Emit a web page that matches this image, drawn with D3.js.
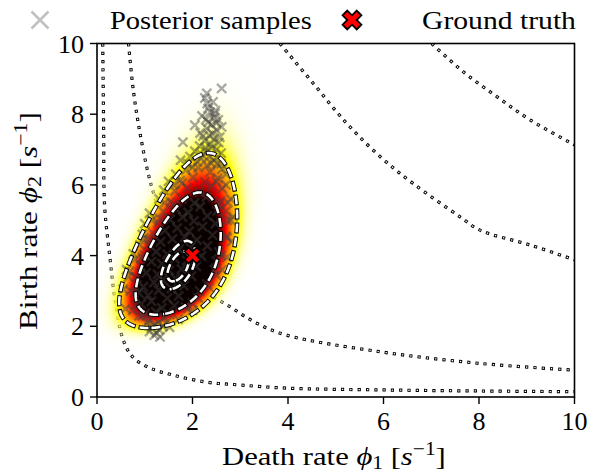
<!DOCTYPE html>
<html><head><meta charset="utf-8">
<script src="https://cdn.jsdelivr.net/npm/d3@7"></script>
<style>body{margin:0;background:#fff}svg{display:block}</style>
</head><body>
<svg id="chart" width="603" height="474"></svg>
<script>
// ---------------- data ----------------
const xTicks = [0, 2, 4, 6, 8, 10];
const yTicks = [0, 2, 4, 6, 8, 10];
const xLabel = "Death rate";
const yLabel = "Birth rate";
const legendLabels = ["Posterior samples", "Ground truth"];
const groundTruth = [2.0, 4.0];

// posterior density shape:
// birth rate ~ log-normal, death rate | birth rate ~ normal around a + b*ln(birth)
const logBirthMean = [1.3625];
const logBirthSd = [0.25];
const deathTrend = [0.40, 1.0];   // intercept, slope on ln(birth)
const deathSd = [0.42];
const contourLevels = [0.041, 0.19, 0.76, 0.9]; // fraction of peak density
const colorMax = [0.24];                       // fraction of peak where colour saturates
const colorGamma = [0.7];

// dotted iso-curves (phi1, phi2)
const isoCurve1 = [[0.12,10],[0.14,7.5],[0.16,5.4],[0.27,3.96],[0.38,2.74],[0.55,1.61],[0.75,1.13],[1.11,0.82],[1.59,0.62],[2.30,0.42],[2.99,0.34],[3.98,0.25],[6.0,0.2],[8.0,0.17],[10,0.15]];
const isoCurve2 = [[0.66,10],[0.76,8.68],[0.90,7.47],[1.07,6.34],[1.21,5.66],[1.5,4.6],[1.85,3.7],[2.23,3.03],[2.79,2.55],[3.34,2.09],[3.97,1.75],[5.93,1.28],[8.02,0.95],[10,0.76]];
const isoCurve3 = [[3.83,10],[4.53,8.87],[5.23,7.74],[5.93,6.80],[6.62,6.04],[7.6,5.1],[8.02,4.72],[9.07,4.30],[10,3.88]];
const isoCurve4 = [[7.01,10],[7.67,9.2],[8.37,8.5],[9.07,7.84],[10,7.13]];
const isoCurves = [isoCurve1, isoCurve2, isoCurve3, isoCurve4];

// posterior samples (phi1, phi2)
const samplesTail = [[2.61,8.73],[2.30,8.59],[2.26,8.46],[2.43,8.35],[2.33,8.17],[2.37,8.06],[2.54,7.84],[2.05,7.69],[1.80,7.21],[2.16,7.47],[2.61,7.64],[2.45,7.9],[2.40,7.7],[2.50,7.55],[2.30,7.6],[2.35,7.4],[2.45,7.3],[2.25,7.25],[2.55,7.2],[2.15,7.1],[2.40,7.05],[2.30,6.95],[2.50,7.0],[2.05,6.95],[2.20,6.85],[2.35,6.8],[2.60,6.9],[1.95,6.8],[2.45,6.7],[2.10,6.65],[2.28,7.85],[2.48,8.1],[2.20,7.95],[2.38,7.15],[2.52,6.6],[2.0,6.5],[2.3,6.55],
 [2.42,7.45],[2.33,7.78],[2.47,8.02],[2.27,7.05],[2.57,7.35],[2.18,6.75],[2.39,6.62],[2.22,7.38],[2.5,7.75],[2.31,8.3]];
const samplesBottom = [[1.25,1.81],[1.14,1.95],[1.32,1.70],[1.20,1.75],[1.05,2.1],[1.30,1.9],[1.38,2.0],[1.10,1.85],[0.95,2.3],[1.45,2.1],[1.22,2.05]];
const samplesEdge = [[0.7,3.0],[0.66,3.4],[0.8,3.9],[0.9,4.3],[1.0,4.9],[1.1,5.2],[1.3,5.6],[1.5,6.1],[1.65,6.3],[1.75,6.7],
 [2.62,5.9],[2.74,5.5],[2.8,5.0],[2.72,4.5],[2.6,4.0],[2.46,3.6],[2.3,3.2],[2.12,2.8],[1.9,2.5],[1.7,2.2],[1.52,1.97],
 [0.8,2.6],[0.88,2.3],[0.62,3.6],[0.95,4.6],[2.7,5.25],[2.5,3.85],[1.4,5.85],[2.0,2.65],
 [0.6,2.5],[0.75,2.45],[1.85,2.55],[2.0,2.45],[0.55,3.05],[0.78,2.95],[2.15,3.0],[2.35,3.1],
 [0.68,3.55],[2.5,3.45],[2.62,3.6],[0.76,4.05],[0.95,3.95],[2.55,4.1],[2.72,3.95],
 [0.98,4.5],[1.1,4.45],[2.7,4.55],[2.82,4.4],[1.15,5.0],[1.32,5.05],[2.72,5.0],[2.85,5.1],
 [1.42,5.5],[1.6,5.45],[2.55,5.45],[2.8,5.6],[1.6,6.0],[1.78,6.05],[2.7,6.0],[2.5,6.1],
 [1.9,6.6],[2.6,6.6],[2.7,6.3]];
const samplesCore = [[1.18,2.02],[1.29,2.11],[1.09,2.18],[1.41,2.24],[1.01,2.37],[1.23,2.41],[1.52,2.33],[1.36,2.52],[0.93,2.63],[1.14,2.71],[1.62,2.58],[1.47,2.79],[0.88,2.94],[1.07,2.88],[1.29,3.02],[1.71,2.86],[1.56,3.07],[0.97,3.12],[1.19,3.24],[1.82,3.15],[1.38,3.31],[0.83,3.38],[1.64,3.36],[1.03,3.51],[1.27,3.47],[1.98,3.42],[1.51,3.58],[1.77,3.62],[0.91,3.71],[1.14,3.83],[1.36,3.77],[2.08,3.69],[1.63,3.91],[1.88,3.86],[0.99,4.02],[1.24,4.11],[1.47,4.04],[2.19,3.99],[1.72,4.18],[1.95,4.23],[1.08,4.31],[2.31,4.27],[1.33,4.39],[1.58,4.47],[1.84,4.52],[2.09,4.44],[1.17,4.63],[2.42,4.58],[1.42,4.71],[1.68,4.78],[1.93,4.69],[2.21,4.82],[1.28,4.93],[2.48,4.91],[1.53,5.02],[1.79,5.09],[2.03,4.98],[2.31,5.12],[1.39,5.24],[1.66,5.31],[1.91,5.22],[2.16,5.38],[2.52,5.27],[1.54,5.52],[1.78,5.61],[2.04,5.49],[2.29,5.66],[2.58,5.54],[1.63,5.83],[1.89,5.91],[2.14,5.79],[2.41,5.96],[1.74,6.12],[2.01,6.21],[2.26,6.08],[2.53,6.19],[1.86,6.42],[2.12,6.49],[2.37,6.36],[2.62,6.45]];
const samples = samplesCore.concat(samplesEdge, samplesTail, samplesBottom);

// ---------------- layout ----------------
const M = {l: 97, r: 574.5, t: 43.5, b: 397};
const FONT = "'Liberation Serif','Times New Roman',serif";
const FS = 26;
const x = d3.scaleLinear().domain([0, 10]).range([M.l, M.r]);
const y = d3.scaleLinear().domain([0, 10]).range([M.b, M.t]);
const svg = d3.select("#chart");

svg.append("defs").append("clipPath").attr("id","clip")
  .append("rect").attr("x",M.l).attr("y",M.t).attr("width",M.r-M.l).attr("height",M.b-M.t);
const plot = svg.append("g").attr("clip-path","url(#clip)");

// dotted iso-curves (under the density)
const line = d3.line().x(d=>x(d[0])).y(d=>y(d[1])).curve(d3.curveCatmullRom.alpha(0.5));
const iso = plot.append("g");
isoCurves.forEach(c=>{
  iso.append("path").attr("d",line(c)).attr("fill","none").attr("stroke","#000")
    .attr("stroke-width",3.2).attr("stroke-dasharray","3.2 5.1");
  iso.append("path").attr("d",line(c)).attr("fill","none").attr("stroke","#fff")
    .attr("stroke-width",1.3).attr("stroke-dasharray","1.4 6.9").attr("stroke-dashoffset",-0.9);
});

// density grid
function density(a, b){
  if (b <= 0) return 0;
  const lb = Math.log(b);
  const z = (lb - logBirthMean[0]) / logBirthSd[0];
  const w = (a - (deathTrend[0] + deathTrend[1]*lb)) / deathSd[0];
  return Math.exp(-0.5*z*z - 0.5*w*w) / b;
}
const pw = Math.round(M.r-M.l), ph = Math.round(M.b-M.t);
const vals = new Float64Array(pw*ph);
let peak = 0;
for (let j=0;j<ph;j++) for (let i=0;i<pw;i++){
  const v = density(x.invert(M.l+i+0.5), y.invert(M.t+j+0.5));
  vals[j*pw+i]=v; if (v>peak) peak=v;
}
const hotR = d3.scaleLinear().domain([0,0.254,0.635,1])
  .range(["#ffffff","#ffff00","#ff0000","#0b0000"]).clamp(true);
const tScale = d3.scalePow().exponent(colorGamma[0]).domain([0, colorMax[0]]).range([0,1]).clamp(true);
const canvas = document.createElement("canvas");
canvas.width=pw; canvas.height=ph;
const ctx = canvas.getContext("2d");
const img = ctx.createImageData(pw,ph);
for (let p=0;p<pw*ph;p++){
  const t = tScale(vals[p]/peak);
  const c = d3.rgb(hotR(t));
  const a = Math.min(1, t/0.25);
  img.data[4*p]=c.r; img.data[4*p+1]=c.g; img.data[4*p+2]=c.b; img.data[4*p+3]=Math.round(255*a);
}
ctx.putImageData(img,0,0);
plot.append("image").attr("x",M.l).attr("y",M.t).attr("width",pw).attr("height",ph)
  .attr("preserveAspectRatio","none").attr("href",canvas.toDataURL());

// samples
const xMark = s => `M${-s},${-s}L${s},${s}M${-s},${s}L${s},${-s}`;
plot.append("g").selectAll("path").data(samples).join("path")
  .attr("transform",d=>`translate(${x(d[0])},${y(d[1])})`)
  .attr("d",xMark(4.6)).attr("stroke","#404040").attr("stroke-opacity",0.45)
  .attr("stroke-width",2.4).attr("fill","none");

// contours
const contours = d3.contours().size([pw,ph]).thresholds(contourLevels.map(l=>l*peak))(vals);
const gpath = d3.geoPath();
const cg = plot.append("g").attr("transform",`translate(${M.l},${M.t})`);
cg.selectAll("path.k").data(contours).join("path").attr("class","k").attr("d",gpath)
  .attr("fill","none").attr("stroke","#000").attr("stroke-width",4.4).attr("stroke-dasharray","11 3");
cg.selectAll("path.w").data(contours).join("path").attr("class","w").attr("d",gpath)
  .attr("fill","none").attr("stroke","#fff").attr("stroke-width",2.6)
  .attr("stroke-dasharray","9 5").attr("stroke-dashoffset",-1);

// ground truth marker (filled X)
function bigX(s,w){
  const pts=[[-w,-s],[w,-s],[w,-w],[s,-w],[s,w],[w,w],[w,s],[-w,s],[-w,w],[-s,w],[-s,-w],[-w,-w]];
  const c=Math.SQRT1_2;
  return "M"+pts.map(([a,b])=>[(a-b)*c,(a+b)*c].join(",")).join("L")+"Z";
}
svg.append("path").attr("d",bigX(8.5,2.8))
  .attr("transform",`translate(${x(groundTruth[0])},${y(groundTruth[1])})`)
  .attr("fill","#ff0000").attr("stroke","#000").attr("stroke-width",1.5).attr("stroke-linejoin","miter");

// axes
const ax = svg.append("g").attr("font-family",FONT).attr("font-size",FS);
ax.append("rect").attr("x",M.l).attr("y",M.t).attr("width",M.r-M.l).attr("height",M.b-M.t)
  .attr("fill","none").attr("stroke","#000").attr("stroke-width",1.6);
xTicks.forEach(v=>{
  ax.append("line").attr("x1",x(v)).attr("x2",x(v)).attr("y1",M.b).attr("y2",M.b+7)
    .attr("stroke","#000").attr("stroke-width",1.4);
  ax.append("text").attr("x",x(v)).attr("y",M.b+33).attr("text-anchor","middle").text(v);
});
yTicks.forEach(v=>{
  ax.append("line").attr("x1",M.l-7).attr("x2",M.l).attr("y1",y(v)).attr("y2",y(v))
    .attr("stroke","#000").attr("stroke-width",1.4);
  ax.append("text").attr("x",M.l-13).attr("y",y(v)+9).attr("text-anchor","end").text(v);
});

// rich labels
function richLabel(g, base, sub){
  const t = g.append("text").attr("font-family",FONT).attr("font-size",FS);
  t.append("tspan").text(base+" ");
  t.append("tspan").attr("font-style","italic").text("\u03D5");
  t.append("tspan").attr("font-size",FS*0.7).attr("dy",4).text(sub);
  t.append("tspan").attr("dy",-4).text(" [");
  t.append("tspan").attr("font-style","italic").text("s");
  t.append("tspan").attr("font-size",FS*0.7).attr("dy",-10).text("\u22121");
  t.append("tspan").attr("dy",10).text("]");
  return t;
}
function fitH(t, x0, x1, yb){
  const bb=t.node().getBBox(); const s=(x1-x0)/bb.width;
  t.attr("transform",`translate(${x0-bb.x*s},${yb}) scale(${s},1)`);
}
const xl = richLabel(svg.append("g"), xLabel, "1");
fitH(xl, 222, 446, 465);
const yl = richLabel(svg.append("g"), yLabel, "2");
{ const bb=yl.node().getBBox(); const L=330-112; const s=L/bb.width;
  yl.attr("transform",`translate(37,330) rotate(-90) scale(${s},1) translate(${-bb.x},0)`); }

// legend
const lg = svg.append("g");
lg.append("path").attr("d",xMark(8.5)).attr("transform","translate(40,20)")
  .attr("stroke","#c0c0c0").attr("stroke-width",2.6).attr("fill","none");
const t1 = lg.append("text").attr("font-family",FONT).attr("font-size",FS).text(legendLabels[0]);
fitH(t1, 110, 312, 29);
lg.append("path").attr("d",bigX(10,3.3)).attr("transform","translate(352,20)")
  .attr("fill","#ff0000").attr("stroke","#000").attr("stroke-width",1.8);
const t2 = lg.append("text").attr("font-family",FONT).attr("font-size",FS).text(legendLabels[1]);
fitH(t2, 422, 576, 29);
</script>
</body></html>
